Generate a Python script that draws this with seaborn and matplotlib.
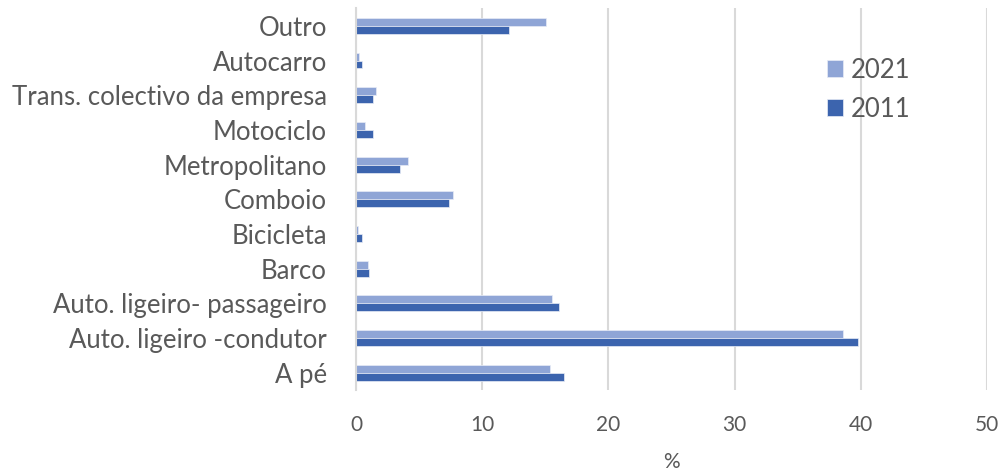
import pandas as pd
import matplotlib.pyplot as plt
import seaborn as sns

categories = ["Outro", "Autocarro", "Trans. colectivo da empresa", "Motociclo",
              "Metropolitano", "Comboio", "Bicicleta", "Barco",
              "Auto. ligeiro- passageiro", "Auto. ligeiro -condutor", "A pé"]
values_2021 = [15.05, 0.24, 1.6, 0.71, 4.1, 7.65, 0.19, 0.95, 15.5, 38.6, 15.35]
values_2011 = [12.1, 0.45, 1.38, 1.32, 3.52, 7.38, 0.5, 1.03, 16.1, 39.8, 16.5]
years = ["2021", "2011"]
colors = ["#8FA5D6", "#3C64AE"]

df = pd.DataFrame({
    "Modo": categories * 2,
    "Valor": values_2021 + values_2011,
    "Ano": ["2021"] * len(categories) + ["2011"] * len(categories),
})

sns.set_style("white")
plt.rcParams["font.family"] = ["Lato", "DejaVu Sans"]
text_col = "#595959"
grid_col = "#D9D9D9"

fig = plt.figure(figsize=(10, 4.71), dpi=100)
ax = fig.add_axes([0.356, 0.172, 0.631, 0.81])

sns.barplot(data=df, y="Modo", x="Valor", hue="Ano", order=categories,
            hue_order=years, palette=colors, saturation=1, width=0.46,
            orient="h", edgecolor="#E8ECF6", linewidth=0.5, ax=ax)

ax.set_xlim(0, 50)
ax.set_xticks(range(0, 51, 10))
ax.xaxis.grid(True, color=grid_col, linewidth=1.5)
ax.set_axisbelow(True)
for s in ["top", "right", "bottom"]:
    ax.spines[s].set_visible(False)
ax.spines["left"].set_color(grid_col)
ax.spines["left"].set_linewidth(1.5)
ax.tick_params(axis="x", length=0, pad=18, labelsize=15, labelcolor=text_col)
ax.tick_params(axis="y", length=0, pad=21, labelsize=18.5, labelcolor=text_col)
ax.set_ylabel("")
ax.set_xlabel("%", fontsize=15, color=text_col, labelpad=12)

leg = ax.legend(loc="center left", bbox_to_anchor=(0.746, 0.787), frameon=False,
                fontsize=18.5, handlelength=0.62, handleheight=0.62,
                handletextpad=0.3, labelspacing=0.55, borderpad=0,
                borderaxespad=0, labelcolor=text_col)

fig.savefig("out.png", dpi=100)
